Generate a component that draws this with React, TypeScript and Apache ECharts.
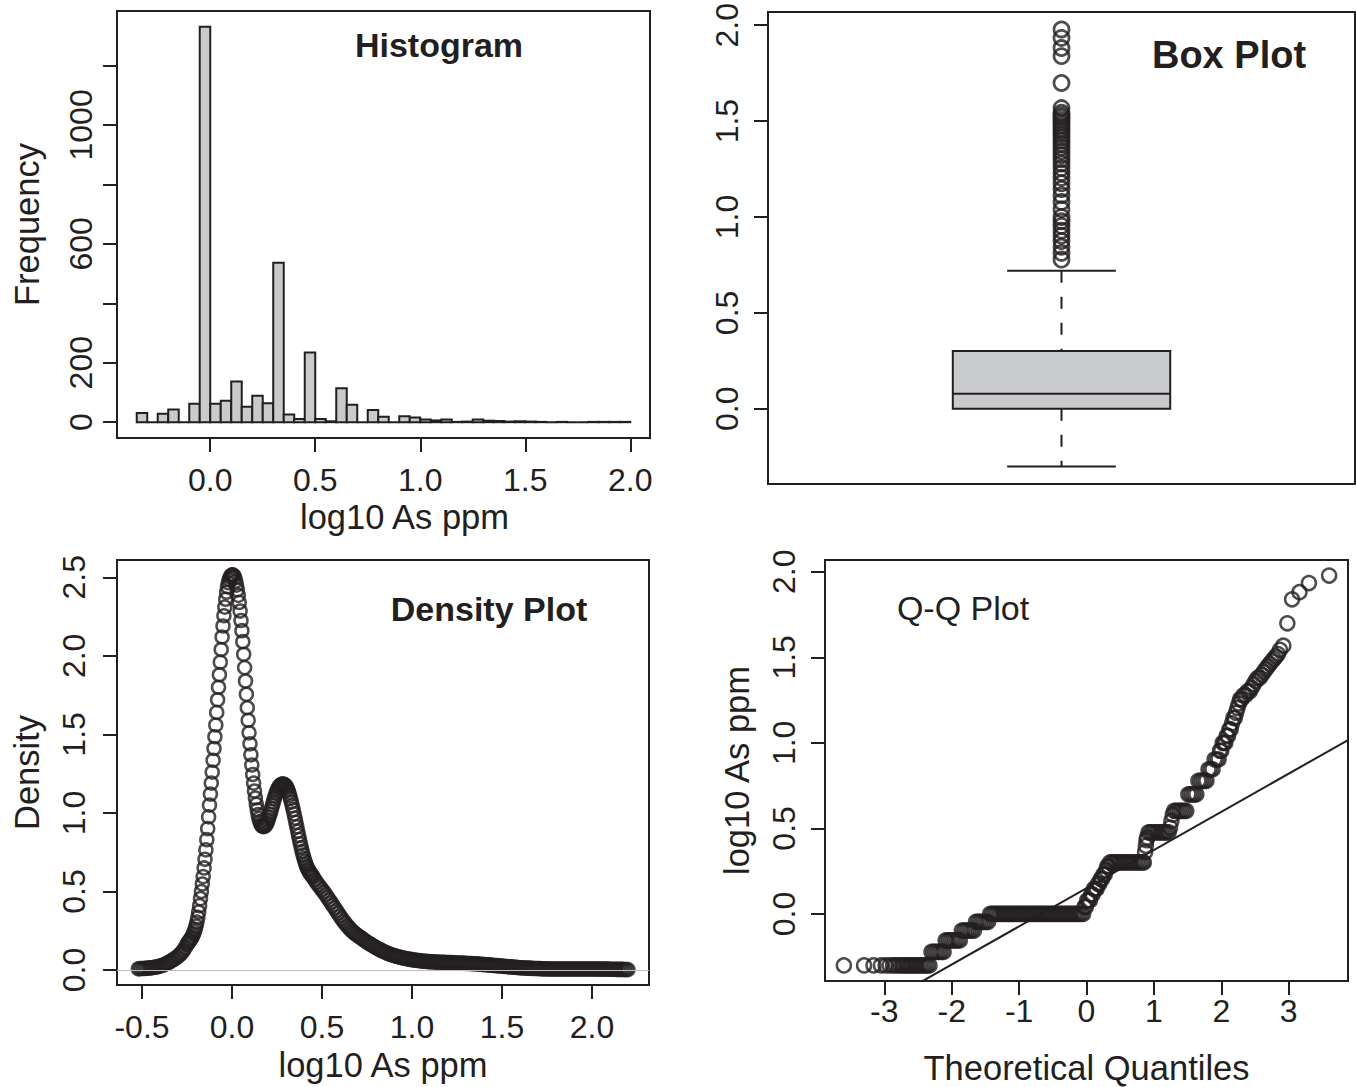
import React, { useEffect, useRef } from 'react';
import * as echarts from 'echarts';

const INK = '#231f20';
const BAR_FILL = '#c9cacc';
const FONT = '"Liberation Sans", Arial, Helvetica, sans-serif';

// ---------- Histogram (log10 As ppm, bin width 0.05) ----------
const histBinEdges = [
  -0.35, -0.3, -0.25, -0.2, -0.15, -0.1, -0.05, 0, 0.05, 0.1, 0.15, 0.2, 0.25, 0.3, 0.35, 0.4,
  0.45, 0.5, 0.55, 0.6, 0.65, 0.7, 0.75, 0.8, 0.85, 0.9, 0.95, 1.0, 1.05, 1.1, 1.15, 1.2,
  1.25, 1.3, 1.35, 1.4, 1.45, 1.5, 1.55, 1.6, 1.65, 1.7, 1.75, 1.8, 1.85, 1.9, 1.95, 2.0,
];
const histCounts = [
  31, 0, 28, 43, 0, 62, 1330, 62, 72, 137, 52, 89, 64, 536, 26, 11,
  234, 11, 3, 114, 59, 0, 41, 18, 0, 20, 16, 9, 6, 9, 1, 2,
  9, 5, 4, 2, 3, 2, 1, 0, 1, 0, 0, 1, 1, 1, 1,
];
const histXTicks = [0, 0.5, 1.0, 1.5, 2.0];
const histYTicks = [0, 200, 400, 600, 800, 1000, 1200];
const histYLabels = [0, 200, 600, 1000];

// ---------- Box plot ----------
// [lower whisker, Q1, median, Q3, upper whisker]
const boxStats = [-0.301, 0.0, 0.079, 0.301, 0.72];
const boxOutliers = [
  0.778, 0.813, 0.845, 0.875, 0.903, 0.929, 0.954, 0.978, 1.0, 1.041, 1.079, 1.114, 1.146,
  1.176, 1.204, 1.23, 1.255, 1.279, 1.301, 1.322, 1.342, 1.362, 1.38, 1.398, 1.415, 1.431,
  1.447, 1.462, 1.477, 1.491, 1.505, 1.519, 1.531, 1.544, 1.568, 1.699, 1.839, 1.881, 1.934,
  1.978,
];
const boxYTicks = [0, 0.5, 1.0, 1.5, 2.0];

// ---------- Density (x, density) ----------
const densityPoints = [
  [-0.52, 0.008], [-0.51, 0.009], [-0.5, 0.01], [-0.49, 0.01], [-0.48, 0.011], [-0.47, 0.012],
  [-0.46, 0.013], [-0.45, 0.014], [-0.44, 0.016], [-0.43, 0.018], [-0.42, 0.02], [-0.41, 0.022],
  [-0.4, 0.025], [-0.39, 0.029], [-0.38, 0.033], [-0.37, 0.038], [-0.36, 0.044], [-0.35, 0.05],
  [-0.34, 0.057], [-0.33, 0.064], [-0.32, 0.071], [-0.31, 0.079], [-0.3, 0.088], [-0.29, 0.098],
  [-0.28, 0.11], [-0.27, 0.125], [-0.26, 0.143],
  [-0.25, 0.163], [-0.245, 0.172], [-0.24, 0.18], [-0.235, 0.188], [-0.23, 0.196], [-0.225, 0.205],
  [-0.22, 0.215], [-0.215, 0.228], [-0.21, 0.243], [-0.205, 0.26], [-0.2, 0.28], [-0.195, 0.305],
  [-0.19, 0.335], [-0.185, 0.37], [-0.18, 0.41], [-0.175, 0.455], [-0.17, 0.5], [-0.165, 0.548],
  [-0.16, 0.595], [-0.155, 0.65], [-0.15, 0.705], [-0.145, 0.765], [-0.14, 0.83], [-0.135, 0.9],
  [-0.13, 0.975], [-0.125, 1.05], [-0.12, 1.12], [-0.115, 1.19], [-0.11, 1.26], [-0.105, 1.335],
  [-0.1, 1.41], [-0.095, 1.485], [-0.09, 1.56], [-0.085, 1.64], [-0.08, 1.72], [-0.075, 1.8],
  [-0.07, 1.88], [-0.065, 1.96], [-0.06, 2.04], [-0.055, 2.12], [-0.05, 2.19], [-0.045, 2.255],
  [-0.04, 2.31], [-0.035, 2.36], [-0.03, 2.405], [-0.025, 2.44], [-0.02, 2.465], [-0.015, 2.485],
  [-0.01, 2.5], [-0.005, 2.51], [0.0, 2.515], [0.005, 2.515], [0.01, 2.51], [0.015, 2.495],
  [0.02, 2.475], [0.025, 2.45], [0.03, 2.42], [0.035, 2.385], [0.04, 2.34], [0.045, 2.285],
  [0.05, 2.225], [0.055, 2.16], [0.06, 2.09], [0.065, 2.01], [0.07, 1.925], [0.075, 1.84],
  [0.08, 1.755], [0.085, 1.67], [0.09, 1.59], [0.095, 1.51], [0.1, 1.44], [0.105, 1.37],
  [0.11, 1.305], [0.115, 1.245], [0.12, 1.19], [0.125, 1.14], [0.13, 1.095], [0.135, 1.055],
  [0.14, 1.02], [0.145, 0.99], [0.15, 0.965], [0.155, 0.945], [0.16, 0.93], [0.165, 0.92],
  [0.17, 0.915], [0.175, 0.913], [0.18, 0.915], [0.185, 0.92], [0.19, 0.928], [0.195, 0.94],
  [0.2, 0.955], [0.205, 0.972], [0.21, 0.99], [0.215, 1.01], [0.22, 1.03], [0.225, 1.05],
  [0.23, 1.07], [0.235, 1.09], [0.24, 1.108], [0.245, 1.125], [0.25, 1.14], [0.255, 1.153],
  [0.26, 1.164], [0.265, 1.172], [0.27, 1.178], [0.275, 1.182], [0.28, 1.184], [0.285, 1.184],
  [0.29, 1.181], [0.295, 1.176], [0.3, 1.17], [0.305, 1.16], [0.31, 1.147], [0.315, 1.131],
  [0.32, 1.112], [0.325, 1.091], [0.33, 1.069], [0.335, 1.045], [0.34, 1.02], [0.345, 0.994],
  [0.35, 0.967], [0.355, 0.94], [0.36, 0.912], [0.365, 0.884], [0.37, 0.857], [0.375, 0.83],
  [0.38, 0.804], [0.385, 0.779], [0.39, 0.755], [0.395, 0.732], [0.4, 0.711], [0.405, 0.692],
  [0.41, 0.675], [0.415, 0.66], [0.42, 0.647], [0.425, 0.636], [0.43, 0.626], [0.435, 0.617],
  [0.44, 0.608], [0.445, 0.6], [0.45, 0.592],
  [0.46, 0.575], [0.47, 0.558], [0.48, 0.542], [0.49, 0.527], [0.5, 0.512], [0.51, 0.497],
  [0.52, 0.481], [0.53, 0.464], [0.54, 0.447], [0.55, 0.43], [0.56, 0.413], [0.57, 0.396],
  [0.58, 0.378], [0.59, 0.361], [0.6, 0.344], [0.61, 0.327], [0.62, 0.311], [0.63, 0.296],
  [0.64, 0.282], [0.65, 0.269], [0.66, 0.257], [0.67, 0.246], [0.68, 0.236], [0.69, 0.227],
  [0.7, 0.218], [0.71, 0.21], [0.72, 0.202], [0.73, 0.194], [0.74, 0.186], [0.75, 0.178],
  [0.76, 0.171], [0.77, 0.164], [0.78, 0.157], [0.79, 0.15], [0.8, 0.143], [0.81, 0.137],
  [0.82, 0.131], [0.83, 0.125], [0.84, 0.119], [0.85, 0.114], [0.86, 0.109], [0.87, 0.104],
  [0.88, 0.1], [0.89, 0.096], [0.9, 0.092], [0.91, 0.089], [0.92, 0.086], [0.93, 0.083],
  [0.94, 0.08], [0.95, 0.077], [0.96, 0.075], [0.97, 0.072], [0.98, 0.07], [0.99, 0.068],
  [1.0, 0.066], [1.01, 0.064], [1.02, 0.063], [1.03, 0.061], [1.04, 0.06], [1.05, 0.058],
  [1.06, 0.057], [1.07, 0.056], [1.08, 0.055], [1.09, 0.054], [1.1, 0.053], [1.11, 0.052],
  [1.12, 0.052], [1.13, 0.051], [1.14, 0.051], [1.15, 0.05], [1.16, 0.05], [1.17, 0.049],
  [1.18, 0.049], [1.19, 0.048], [1.2, 0.048], [1.21, 0.047], [1.22, 0.047], [1.23, 0.046],
  [1.24, 0.046], [1.25, 0.045], [1.26, 0.045], [1.27, 0.044], [1.28, 0.044], [1.29, 0.043],
  [1.3, 0.043], [1.31, 0.042], [1.32, 0.042], [1.33, 0.041], [1.34, 0.04], [1.35, 0.04],
  [1.36, 0.039], [1.37, 0.038], [1.38, 0.037], [1.39, 0.036], [1.4, 0.035], [1.41, 0.034],
  [1.42, 0.033], [1.43, 0.032], [1.44, 0.031], [1.45, 0.03], [1.46, 0.029], [1.47, 0.028],
  [1.48, 0.027], [1.49, 0.026], [1.5, 0.025], [1.51, 0.024], [1.52, 0.023], [1.53, 0.022],
  [1.54, 0.021], [1.55, 0.02], [1.56, 0.019], [1.57, 0.018], [1.58, 0.017], [1.59, 0.016],
  [1.6, 0.015], [1.61, 0.014], [1.62, 0.013], [1.63, 0.013], [1.64, 0.012], [1.65, 0.012],
  [1.66, 0.011], [1.67, 0.011], [1.68, 0.01], [1.69, 0.01], [1.7, 0.009], [1.71, 0.009],
  [1.72, 0.008], [1.73, 0.008], [1.74, 0.008], [1.75, 0.008], [1.76, 0.007], [1.77, 0.007],
  [1.78, 0.007], [1.79, 0.007], [1.8, 0.007], [1.81, 0.007], [1.82, 0.007], [1.83, 0.007],
  [1.84, 0.007], [1.85, 0.007], [1.86, 0.007], [1.87, 0.007], [1.88, 0.007], [1.89, 0.007],
  [1.9, 0.007], [1.91, 0.007], [1.92, 0.007], [1.93, 0.007], [1.94, 0.007], [1.95, 0.007],
  [1.96, 0.007], [1.97, 0.007], [1.98, 0.007], [1.99, 0.007], [2.0, 0.007], [2.01, 0.007],
  [2.02, 0.007], [2.03, 0.007], [2.04, 0.006], [2.05, 0.006], [2.06, 0.006], [2.07, 0.006],
  [2.08, 0.006], [2.09, 0.006], [2.1, 0.005], [2.11, 0.005], [2.12, 0.005], [2.13, 0.005],
  [2.14, 0.004], [2.15, 0.004], [2.16, 0.004], [2.17, 0.004], [2.18, 0.003], [2.19, 0.003],
  [2.2, 0.003],
];
const densXTicks = [-0.5, 0, 0.5, 1.0, 1.5, 2.0];
const densYTicks = [0, 0.5, 1.0, 1.5, 2.0, 2.5];

// ---------- Q-Q plot (theoretical quantile, sample value) ----------
const qqPoints = [
  [-3.6, -0.301], [-3.3, -0.301], [-3.16, -0.301], [-3.05, -0.301], [-2.98, -0.301], [-2.92, -0.301],
  [-2.87, -0.301], [-2.83, -0.301], [-2.79, -0.301], [-2.75, -0.301], [-2.72, -0.301], [-2.69, -0.301],
  [-2.66, -0.301], [-2.63, -0.301], [-2.6, -0.301], [-2.57, -0.301], [-2.54, -0.301], [-2.51, -0.301],
  [-2.48, -0.301], [-2.45, -0.301], [-2.42, -0.301], [-2.39, -0.301], [-2.36, -0.301], [-2.33, -0.301],
  [-2.3, -0.222], [-2.27, -0.222], [-2.24, -0.222], [-2.21, -0.222], [-2.18, -0.222], [-2.15, -0.222],
  [-2.12, -0.222],
  [-2.09, -0.155], [-2.06, -0.155], [-2.03, -0.155], [-2.0, -0.155], [-1.97, -0.155], [-1.94, -0.155],
  [-1.91, -0.155], [-1.88, -0.155],
  [-1.85, -0.097], [-1.82, -0.097], [-1.79, -0.097], [-1.76, -0.097], [-1.73, -0.097], [-1.7, -0.097],
  [-1.67, -0.097],
  [-1.64, -0.046], [-1.61, -0.046], [-1.58, -0.046], [-1.55, -0.046], [-1.52, -0.046], [-1.49, -0.046],
  [-1.46, -0.046],
  [-1.43, 0], [-1.4, 0], [-1.37, 0], [-1.34, 0], [-1.31, 0], [-1.28, 0], [-1.25, 0], [-1.22, 0],
  [-1.19, 0], [-1.16, 0], [-1.13, 0], [-1.1, 0], [-1.07, 0], [-1.04, 0], [-1.01, 0], [-0.98, 0],
  [-0.95, 0], [-0.92, 0], [-0.89, 0], [-0.86, 0], [-0.83, 0], [-0.8, 0], [-0.77, 0], [-0.74, 0],
  [-0.71, 0], [-0.68, 0], [-0.65, 0], [-0.62, 0], [-0.59, 0], [-0.56, 0], [-0.53, 0], [-0.5, 0],
  [-0.47, 0], [-0.44, 0], [-0.41, 0], [-0.38, 0], [-0.35, 0], [-0.32, 0], [-0.29, 0], [-0.26, 0],
  [-0.23, 0], [-0.2, 0], [-0.17, 0], [-0.14, 0], [-0.11, 0], [-0.08, 0], [-0.05, 0],
  [-0.03, 0.041], [-0.01, 0.041], [0.01, 0.079], [0.03, 0.079], [0.05, 0.079], [0.07, 0.114],
  [0.09, 0.114], [0.11, 0.146], [0.13, 0.146], [0.15, 0.146], [0.17, 0.176], [0.19, 0.176],
  [0.21, 0.204], [0.23, 0.204], [0.25, 0.23], [0.27, 0.23], [0.29, 0.255], [0.31, 0.279], [0.33, 0.279],
  [0.35, 0.301], [0.38, 0.301], [0.41, 0.301], [0.44, 0.301], [0.47, 0.301], [0.5, 0.301],
  [0.53, 0.301], [0.56, 0.301], [0.59, 0.301], [0.62, 0.301], [0.65, 0.301], [0.68, 0.301],
  [0.71, 0.301], [0.74, 0.301], [0.77, 0.301], [0.8, 0.301], [0.83, 0.301], [0.85, 0.301],
  [0.87, 0.362], [0.88, 0.398], [0.89, 0.431], [0.9, 0.447],
  [0.92, 0.477], [0.95, 0.477], [0.98, 0.477], [1.01, 0.477], [1.04, 0.477], [1.07, 0.477],
  [1.1, 0.477], [1.13, 0.477], [1.16, 0.477], [1.19, 0.477], [1.22, 0.477],
  [1.24, 0.505], [1.26, 0.544], [1.28, 0.58],
  [1.3, 0.602], [1.33, 0.602], [1.36, 0.602], [1.39, 0.602], [1.42, 0.602], [1.45, 0.602], [1.48, 0.602],
  [1.51, 0.699], [1.54, 0.699], [1.57, 0.699], [1.6, 0.699], [1.63, 0.699],
  [1.66, 0.778], [1.69, 0.778], [1.72, 0.778], [1.75, 0.778], [1.78, 0.778],
  [1.81, 0.845], [1.84, 0.845], [1.87, 0.845],
  [1.9, 0.903], [1.93, 0.903], [1.96, 0.903],
  [1.98, 0.954], [2.0, 0.954], [2.02, 1.0], [2.04, 1.0], [2.06, 1.0],
  [2.08, 1.041], [2.1, 1.041], [2.12, 1.079], [2.14, 1.079], [2.16, 1.114], [2.18, 1.146],
  [2.2, 1.146], [2.22, 1.176], [2.24, 1.204], [2.26, 1.23], [2.28, 1.255], [2.3, 1.255],
  [2.33, 1.279], [2.36, 1.279], [2.39, 1.301], [2.42, 1.301], [2.45, 1.322], [2.48, 1.342],
  [2.51, 1.362], [2.54, 1.38], [2.57, 1.38], [2.6, 1.398], [2.63, 1.415], [2.66, 1.431],
  [2.69, 1.447], [2.72, 1.462], [2.75, 1.477], [2.78, 1.491], [2.81, 1.505], [2.84, 1.519],
  [2.87, 1.544], [2.92, 1.568], [2.98, 1.699], [3.05, 1.839], [3.16, 1.881], [3.3, 1.934],
  [3.6, 1.978],
];
// qqline passes through the (theoretical, sample) quartile pairs
const qqQuartiles = [[-0.6745, 0.0], [0.6745, 0.301]];
const qqXTicks = [-3, -2, -1, 0, 1, 2, 3];
const qqYTicks = [0, 0.5, 1.0, 1.5, 2.0];

// axis ranges (R-style 4% padding)
const histXRange = [-0.444, 2.094];
const histYRange = [-53.2, 1383.2];
const boxXRange = [0.46, 1.54];
const boxYRange = [-0.392, 2.069];
const densXRange = [-0.639, 2.317];
const densYRange = [-0.095, 2.61];
const qqXRange = [-3.88, 3.88];
const qqYRange = [-0.392, 2.069];

const TICK_FS = 32;
const NAME_FS = 34.5;

function xAxisCfg(grid, range, ticks, fmt, name, nameGap, margin, namePad) {
  return {
    type: 'value', gridIndex: grid, min: range[0], max: range[1],
    axisLine: { show: false, onZero: false }, splitLine: { show: false },
    axisTick: { show: true, customValues: ticks, length: 14, lineStyle: { color: INK, width: 2 } },
    axisLabel: {
      show: true, customValues: ticks, formatter: fmt, margin,
      color: INK, fontSize: TICK_FS, fontFamily: FONT, lineHeight: TICK_FS,
    },
    name, nameLocation: 'middle', nameGap,
    nameTextStyle: { color: INK, fontSize: NAME_FS, fontFamily: FONT, lineHeight: NAME_FS, padding: namePad || 0 },
  };
}
function yAxisCfg(grid, range, ticks, labels, fmt, name, nameGap, margin) {
  return {
    type: 'value', gridIndex: grid, min: range[0], max: range[1],
    axisLine: { show: false, onZero: false }, splitLine: { show: false },
    axisTick: { show: true, customValues: ticks, length: 14, lineStyle: { color: INK, width: 2 } },
    axisLabel: {
      show: true, customValues: labels, formatter: fmt, margin, rotate: 90,
      color: INK, fontSize: TICK_FS, fontFamily: FONT, lineHeight: TICK_FS,
    },
    name, nameLocation: 'middle', nameGap, nameRotate: 90,
    nameTextStyle: { color: INK, fontSize: NAME_FS, fontFamily: FONT, lineHeight: NAME_FS },
  };
}

const fmt1 = (v) => Number(v).toFixed(1);
const fmt0 = (v) => String(Math.round(Number(v)));

export default function App() {
  const ref = useRef(null);
  useEffect(() => {
    const chart = echarts.init(ref.current, null, { renderer: 'svg' });

    const histData = histCounts.map((c, i) => [histBinEdges[i], histBinEdges[i + 1], c]);
    const qqSlope = (qqQuartiles[1][1] - qqQuartiles[0][1]) / (qqQuartiles[1][0] - qqQuartiles[0][0]);
    const qqIntercept = qqQuartiles[0][1] - qqSlope * qqQuartiles[0][0];
    const qqLineData = [
      [qqXRange[0], qqIntercept + qqSlope * qqXRange[0]],
      [qqXRange[1], qqIntercept + qqSlope * qqXRange[1]],
    ];

    const gridBase = { show: true, borderColor: INK, borderWidth: 2, backgroundColor: 'transparent' };
    const circleStyle = { color: 'rgba(0,0,0,0)', borderColor: INK, borderWidth: 2.5 };

    const titleStyle = (text, font) => ({
      text, fill: INK, font, textAlign: 'center', textVerticalAlign: 'middle', align: 'center', verticalAlign: 'middle',
    });

    const option = {
      animation: false,
      backgroundColor: '#ffffff',
      textStyle: { fontFamily: FONT },
      grid: [
        { ...gridBase, left: 117, top: 11, width: 533, height: 427 },
        { ...gridBase, left: 768, top: 11, width: 587, height: 473 },
        { ...gridBase, left: 117, top: 560, width: 532, height: 425 },
        { ...gridBase, left: 825, top: 560, width: 523, height: 421 },
      ],
      xAxis: [
        xAxisCfg(0, histXRange, histXTicks, fmt1, 'log10 As ppm', 62, 26, [0, 0, 0, 42]),
        { type: 'value', gridIndex: 1, min: boxXRange[0], max: boxXRange[1], show: false },
        xAxisCfg(2, densXRange, densXTicks, fmt1, 'log10 As ppm', 63, 26),
        xAxisCfg(3, qqXRange, qqXTicks, fmt0, 'Theoretical Quantiles', 70, 14),
      ],
      yAxis: [
        yAxisCfg(0, histYRange, histYTicks, histYLabels, fmt0, 'Frequency', 73, 20),
        yAxisCfg(1, boxYRange, boxYTicks, boxYTicks, fmt1, '', 40, 25),
        yAxisCfg(2, densYRange, densYTicks, densYTicks, fmt1, 'Density', 73, 27),
        yAxisCfg(3, qqYRange, qqYTicks, qqYTicks, fmt1, 'log10 As ppm', 71, 25),
      ],
      graphic: [
        { type: 'text', x: 439, y: 45, silent: true, style: titleStyle('Histogram', `bold 34px ${FONT}`) },
        { type: 'text', x: 1229, y: 55, silent: true, style: titleStyle('Box Plot', `bold 38px ${FONT}`) },
        { type: 'text', x: 489, y: 609, silent: true, style: titleStyle('Density Plot', `bold 34px ${FONT}`) },
        { type: 'text', x: 963, y: 608, silent: true, style: titleStyle('Q-Q Plot', `34px ${FONT}`) },
      ],
      series: [
        {
          type: 'custom', xAxisIndex: 0, yAxisIndex: 0, silent: true, clip: true,
          encode: { x: [0, 1], y: 2 },
          data: histData,
          renderItem: (params, api) => {
            const p0 = api.coord([api.value(0), api.value(2)]);
            const p1 = api.coord([api.value(1), 0]);
            return {
              type: 'rect',
              shape: { x: p0[0], y: p0[1], width: p1[0] - p0[0], height: p1[1] - p0[1] },
              style: { fill: BAR_FILL, stroke: INK, lineWidth: 2 },
            };
          },
        },
        {
          type: 'custom', xAxisIndex: 1, yAxisIndex: 1, silent: true,
          encode: { x: 0, y: [1, 2, 3, 4, 5] },
          data: [[1, ...boxStats]],
          renderItem: (params, api) => {
            const cx = api.value(0);
            const lo = api.value(1), q1 = api.value(2), med = api.value(3), q3 = api.value(4), hi = api.value(5);
            const half = 0.2, cap = 0.1;
            const c = (x, y) => api.coord([x, y]);
            const seg = (a, b, dash) => ({
              type: 'line',
              shape: { x1: a[0], y1: a[1], x2: b[0], y2: b[1] },
              style: { stroke: INK, lineWidth: 2, lineDash: dash || null },
            });
            const tl = c(cx - half, q3);
            const br = c(cx + half, q1);
            return {
              type: 'group',
              children: [
                seg(c(cx, hi), c(cx, q3), [12, 14]),
                seg(c(cx, q1), c(cx, lo), [12, 14]),
                seg(c(cx - cap, hi), c(cx + cap, hi)),
                seg(c(cx - cap, lo), c(cx + cap, lo)),
                {
                  type: 'rect',
                  shape: { x: tl[0], y: tl[1], width: br[0] - tl[0], height: br[1] - tl[1] },
                  style: { fill: BAR_FILL, stroke: INK, lineWidth: 2 },
                },
                seg(c(cx - half, med), c(cx + half, med)),
              ],
            };
          },
        },
        {
          type: 'scatter', xAxisIndex: 1, yAxisIndex: 1, silent: true,
          symbol: 'circle', symbolSize: 15,
          itemStyle: { color: 'rgba(0,0,0,0)', borderColor: INK, borderWidth: 2.8 },
          data: boxOutliers.map((v) => [1, v]),
        },
        {
          type: 'scatter', xAxisIndex: 2, yAxisIndex: 2, silent: true, large: false,
          symbol: 'circle', symbolSize: 13, itemStyle: circleStyle,
          data: densityPoints,
          markLine: {
            silent: true, symbol: ['none', 'none'], label: { show: false },
            lineStyle: { color: '#bebebe', width: 1, type: 'solid' },
            data: [{ yAxis: 0 }],
          },
        },
        {
          type: 'scatter', xAxisIndex: 3, yAxisIndex: 3, silent: true, large: false,
          symbol: 'circle', symbolSize: 14, itemStyle: circleStyle,
          data: qqPoints,
        },
        {
          type: 'line', xAxisIndex: 3, yAxisIndex: 3, silent: true, clip: true,
          symbol: 'none', lineStyle: { color: INK, width: 2 },
          data: qqLineData,
        },
      ],
    };
    chart.setOption(option);
    return () => chart.dispose();
  }, []);
  return (
    <div
      ref={ref}
      style={{ position: 'absolute', left: 0, top: 0, width: 1356, height: 1087, background: '#fff' }}
    />
  );
}
